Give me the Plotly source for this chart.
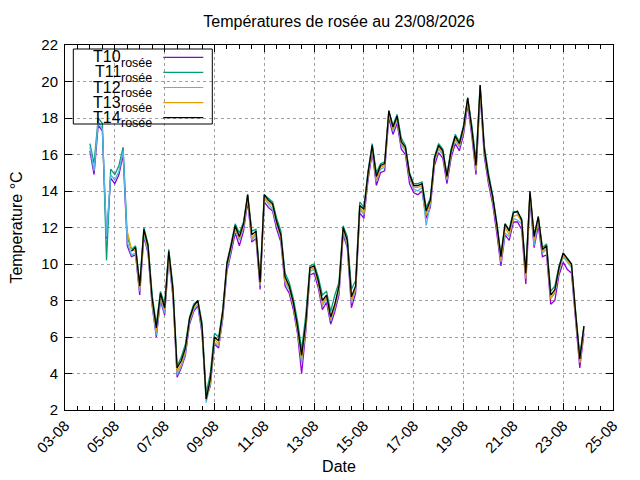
import plotly.graph_objects as go
import pandas as pd

# 4-hourly readings from 04-08 00:00 to 23-08 20:00
times = pd.date_range("2026-08-04 00:00", periods=120, freq="4h")

names = ["T10", "T11", "T12", "T13", "T14"]
colors = ["#9400d3", "#009e73", "#56b4e9", "#e69f00", "#000000"]

t10 = [16.2, 14.9, 17.6, 17.3, 11.4, 14.7, 14.4, 14.9, 16.0, 11.0,
       10.4, 10.5, 8.3, 11.5, 10.6, 7.7, 6.0, 8.0, 7.2, 10.3,
       8.2, 3.8, 4.3, 5.0, 6.7, 7.4, 7.7, 6.2, 2.7, 3.3,
       5.6, 5.4, 7.0, 9.6, 10.6, 11.7, 11.0, 11.8, 13.4, 11.2,
       11.4, 8.6, 13.4, 13.1, 12.9, 11.9, 11.2, 8.8, 8.4, 7.5,
       6.2, 4.0, 6.3, 9.4, 9.5, 8.7, 7.5, 7.9, 6.7, 7.4,
       8.3, 11.6, 10.9, 7.6, 8.4, 12.8, 12.5, 14.6, 16.1, 14.3,
       15.0, 15.1, 18.0, 17.1, 17.7, 16.3, 16.0, 14.4, 13.9, 13.8,
       14.0, 12.5, 13.1, 15.4, 16.1, 15.8, 14.4, 15.8, 16.6, 16.2,
       17.1, 18.7, 17.0, 14.9, 19.3, 15.9, 14.4, 13.3, 11.7, 9.9,
       11.6, 11.3, 12.3, 12.3, 11.9, 8.9, 13.5, 10.9, 12.1, 10.4,
       10.5, 7.8, 8.0, 9.4, 10.1, 9.7, 9.5, 6.8, 4.3, 6.2]

t11 = [16.6, 15.5, 18.0, 17.7, 10.2, 15.2, 14.9, 15.4, 16.4, 11.5,
       10.8, 11.0, 8.9, 12.0, 11.1, 8.3, 6.7, 8.5, 7.8, 10.8,
       8.8, 4.4, 4.9, 5.6, 7.1, 7.8, 8.0, 6.8, 2.9, 4.0,
       6.2, 6.0, 7.5, 10.1, 11.1, 12.2, 11.7, 12.3, 13.8, 11.8,
       11.9, 9.2, 13.8, 13.6, 13.4, 12.5, 11.8, 9.5, 9.0, 8.1,
       6.9, 5.3, 7.2, 9.9, 10.0, 9.3, 8.3, 8.5, 7.4, 8.3,
       9.0, 12.1, 11.5, 8.6, 9.1, 13.4, 13.1, 15.1, 16.6, 15.0,
       15.5, 15.6, 18.4, 17.6, 18.2, 16.9, 16.5, 15.0, 14.4, 14.4,
       14.5, 13.1, 13.6, 15.9, 16.6, 16.3, 14.9, 16.3, 17.1, 16.7,
       17.6, 19.1, 17.6, 15.7, 19.8, 16.5, 15.0, 13.8, 12.3, 10.5,
       12.2, 11.9, 12.9, 12.8, 12.5, 9.6, 13.9, 11.6, 12.6, 10.9,
       11.1, 8.5, 8.8, 9.9, 10.6, 10.3, 10.0, 7.4, 5.0, 6.6]

t12 = [16.4, 15.1, 17.8, 17.4, 11.5, 14.9, 14.6, 15.1, 16.2, 11.2,
       10.5, 10.6, 8.5, 11.6, 10.7, 7.8, 6.1, 8.1, 7.3, 10.4,
       8.3, 3.9, 4.4, 5.1, 6.8, 7.5, 7.8, 6.3, 2.4, 3.4,
       5.7, 5.5, 7.1, 9.7, 10.8, 11.9, 11.3, 12.0, 13.6, 11.3,
       11.6, 8.8, 13.6, 13.3, 13.0, 12.1, 11.4, 9.0, 8.6, 7.7,
       6.3, 4.6, 6.5, 9.6, 9.7, 8.9, 7.7, 8.1, 6.9, 7.6,
       8.5, 11.8, 11.0, 7.9, 8.6, 13.0, 12.7, 14.8, 16.3, 14.5,
       15.2, 15.3, 18.2, 17.3, 17.9, 16.5, 16.2, 14.7, 14.1, 14.0,
       14.2, 12.1, 13.3, 15.6, 16.3, 16.0, 14.6, 16.0, 16.8, 16.4,
       17.3, 18.9, 17.2, 15.1, 19.5, 16.1, 14.6, 13.5, 12.0, 10.1,
       11.7, 11.5, 12.5, 12.4, 12.2, 9.3, 13.8, 11.0, 12.4, 10.6,
       10.8, 8.1, 8.4, 9.6, 10.4, 10.1, 9.8, 7.1, 4.6, 6.4]

# T13 and T14 start later (05-08)
t13 = [None] * 9 + [
    11.8, 10.8, 10.7, 8.6, 11.8, 10.8, 7.9, 6.3, 8.3, 7.5, 10.6,
    8.4, 4.1, 4.5, 5.3, 6.9, 7.6, 8.0, 6.5, 2.6, 3.5,
    5.9, 5.6, 7.3, 9.9, 10.9, 12.0, 11.4, 12.1, 13.7, 11.4,
    11.7, 8.9, 13.7, 13.4, 13.2, 12.2, 11.5, 9.1, 8.7, 7.8,
    6.4, 4.8, 6.6, 9.7, 9.8, 9.0, 7.8, 8.2, 7.0, 7.7,
    8.7, 11.9, 11.2, 8.0, 8.7, 13.1, 12.8, 14.9, 16.4, 14.6,
    15.3, 15.4, 18.3, 17.4, 18.0, 16.6, 16.3, 14.8, 14.2, 14.2,
    14.3, 12.7, 13.4, 15.7, 16.4, 16.1, 14.7, 16.1, 16.9, 16.5,
    17.4, 19.0, 17.3, 15.2, 19.6, 16.2, 14.7, 13.6, 12.1, 10.2,
    12.0, 11.6, 12.6, 12.7, 12.3, 9.2, 13.9, 11.3, 12.5, 10.7,
    10.9, 8.1, 8.5, 9.7, 10.5, 10.2, 9.9, 7.2, 4.6, 6.5]

t14 = [None] * 10 + [
    10.7, 10.9, 8.8, 11.9, 11.0, 8.1, 6.5, 8.4, 7.6, 10.7,
    8.6, 4.3, 4.7, 5.4, 7.0, 7.7, 8.0, 6.6, 2.6, 3.7,
    6.0, 5.8, 7.4, 10.0, 11.0, 12.1, 11.5, 12.2, 13.8, 11.6,
    11.8, 9.0, 13.8, 13.5, 13.3, 12.3, 11.6, 9.3, 8.8, 7.9,
    6.6, 5.0, 6.8, 9.8, 9.9, 9.1, 8.0, 8.3, 7.1, 7.8,
    8.8, 12.0, 11.3, 8.2, 8.8, 13.2, 13.0, 15.0, 16.5, 14.8,
    15.4, 15.5, 18.4, 17.5, 18.1, 16.7, 16.4, 14.9, 14.3, 14.3,
    14.4, 12.9, 13.5, 15.8, 16.5, 16.2, 14.8, 16.2, 17.0, 16.6,
    17.5, 19.1, 17.4, 15.4, 19.8, 16.3, 14.8, 13.7, 12.2, 10.4,
    12.2, 11.8, 12.8, 12.9, 12.4, 9.5, 14.0, 11.5, 12.6, 10.8,
    11.0, 8.3, 8.6, 9.8, 10.6, 10.3, 10.0, 7.3, 4.8, 6.6]

series = [t10, t11, t12, t13, t14]

FONT = "Liberation Sans, Arial, sans-serif"

fig = go.Figure()
for name, vals, col in zip(names, series, colors):
    fig.add_trace(go.Scatter(
        x=times, y=vals, mode="lines", name=name + " rosée",
        line=dict(color=col, width=1.3), showlegend=False,
    ))

# gnuplot-like key: text right-justified, sample line on the right
# plot area is 548 x 365 px, starting at (65, 45) on the page
def px_x(x):
    return (x - 65) / 548


def px_y(y):
    return (410 - y) / 365


shapes = [dict(type="rect", xref="paper", yref="paper",
               x0=px_x(73.3), x1=px_x(212.3), y0=px_y(124), y1=px_y(49),
               line=dict(color="black", width=1))]
annotations = []
for k, (name, col) in enumerate(zip(names, colors)):
    yline = 57.3 + 15.1 * k
    shapes.append(dict(type="line", xref="paper", yref="paper",
                       x0=px_x(163.3), x1=px_x(203.3),
                       y0=px_y(yline), y1=px_y(yline),
                       line=dict(color=col, width=1.2)))
    annotations.append(dict(
        xref="paper", yref="paper", x=px_x(122.7), y=px_y(yline - 0.5),
        xanchor="right", yanchor="middle", showarrow=False,
        text=name, font=dict(size=16, color="black"),
    ))
    annotations.append(dict(
        xref="paper", yref="paper", x=px_x(153.8), y=px_y(yline + 5.5),
        xanchor="right", yanchor="middle", showarrow=False,
        text="rosée", font=dict(size=12.5, color="black"),
    ))

axis_style = dict(
    showline=True, linecolor="black", linewidth=1, mirror="allticks",
    ticks="inside", ticklen=7, tickcolor="black",
    showgrid=True, gridcolor="#a0a0a0", griddash="dot", gridwidth=1,
    zeroline=False, automargin=False,
    tickfont=dict(size=15, color="black"),
)

# the page body adds an 8 px offset, so the figure is 632x472
fig.update_layout(
    width=632, height=472,
    margin=dict(l=57, r=27, t=37, b=70),
    paper_bgcolor="white", plot_bgcolor="white",
    font=dict(family=FONT, color="black"),
    title=dict(text="Températures de rosée au 23/08/2026", x=0.5, xref="paper",
               y=1 - 13 / 472, yref="container", yanchor="middle",
               font=dict(size=16)),
    xaxis=dict(
        axis_style, type="date",
        range=["2026-08-03", "2026-08-25"],
        tick0="2026-08-03", dtick=2 * 86400000, tickformat="%d-%m",
        tickangle=-45,
        minor=dict(ticks="inside", ticklen=4, tickcolor="black",
                   dtick=43200000, showgrid=False),
        title=dict(text="Date", font=dict(size=16), standoff=5),
    ),
    yaxis=dict(
        axis_style, range=[2, 22], dtick=2, ticklabelstandoff=3,
        title=dict(text="Temperature °C", font=dict(size=16), standoff=19),
    ),
    shapes=shapes, annotations=annotations,
)

fig.write_html("out.html")
